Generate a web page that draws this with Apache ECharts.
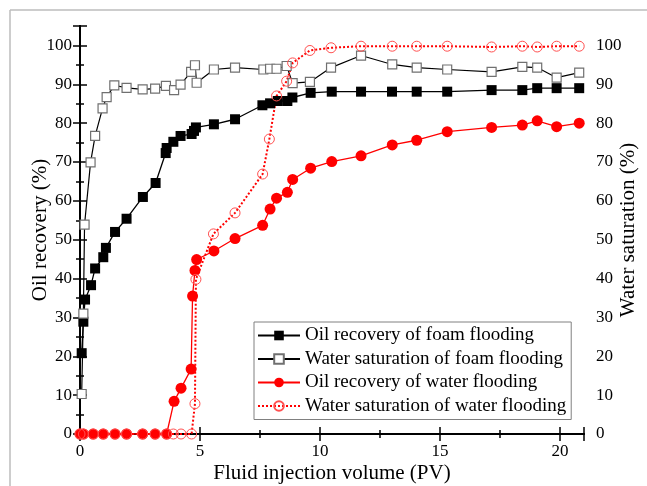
<!DOCTYPE html>
<html>
<head>
<meta charset="utf-8">
<script src="https://cdn.jsdelivr.net/npm/echarts@6/dist/echarts.min.js"></script>
<style>
  html, body { margin: 0; padding: 0; background: #fff; }
  #chart { width: 647px; height: 486px; }
</style>
</head>
<body>
<div id="chart"></div>
<script>
const FONT = '"Liberation Serif", "Times New Roman", serif'

// Oil recovery of foam flooding
const foamOilX = [0.07, 0.14, 0.21, 0.46, 0.63, 0.97, 1.08, 1.46, 1.94, 2.62, 3.15, 3.57, 3.61, 3.89, 4.19, 4.65, 4.75, 4.83, 5.58, 6.46, 7.6, 7.92, 8.24, 8.64, 8.85, 9.61, 10.49, 11.71, 13.0, 14.03, 15.3, 17.15, 18.43, 19.05, 19.86, 20.8]
const foamOilY = [20.8, 28.9, 34.6, 38.3, 42.6, 45.5, 47.9, 52.0, 55.4, 61.0, 64.6, 72.3, 73.6, 75.2, 76.7, 77.2, 78.0, 78.9, 79.7, 81.0, 84.6, 85.1, 85.7, 85.7, 86.6, 87.8, 88.1, 88.1, 88.1, 88.1, 88.1, 88.5, 88.5, 89.0, 89.0, 89.0]

// Water saturation of foam flooding
const foamSatX = [0.07, 0.14, 0.19, 0.44, 0.63, 0.94, 1.11, 1.43, 1.94, 2.61, 3.13, 3.58, 3.92, 4.19, 4.63, 4.79, 4.86, 5.58, 6.46, 7.64, 7.92, 8.19, 8.61, 8.86, 9.58, 10.46, 11.71, 13.01, 14.03, 15.3, 17.15, 18.43, 19.05, 19.86, 20.8]
const foamSatY = [10.3, 31.0, 53.9, 69.9, 76.7, 83.8, 86.7, 89.7, 89.1, 88.7, 88.9, 89.6, 88.5, 89.9, 93.2, 94.9, 90.4, 93.8, 94.3, 93.8, 94.0, 94.0, 94.7, 90.3, 90.6, 94.3, 97.4, 95.1, 94.3, 93.8, 93.2, 94.5, 94.3, 91.7, 93.0]

// Oil recovery of water flooding
const waterOilX = [0, 0.14, 0.55, 0.97, 1.46, 1.94, 2.61, 3.13, 3.61, 3.92, 4.21, 4.63, 4.69, 4.79, 4.86, 5.58, 6.46, 7.61, 7.92, 8.19, 8.64, 8.86, 9.61, 10.49, 11.71, 13.01, 14.03, 15.3, 17.15, 18.43, 19.05, 19.86, 20.8]
const waterOilY = [0, 0, 0, 0, 0, 0, 0, 0, 0, 8.4, 11.8, 16.7, 35.5, 42.1, 44.9, 47.1, 50.3, 53.7, 57.9, 60.7, 62.2, 65.5, 68.4, 70.1, 71.6, 74.4, 75.6, 77.8, 78.9, 79.5, 80.6, 79.1, 80.0]

// Water saturation of water flooding
const waterSatX = [0, 0.14, 0.55, 0.97, 1.46, 1.94, 2.61, 3.13, 3.61, 3.89, 4.21, 4.65, 4.79, 4.83, 5.56, 6.46, 7.61, 7.89, 8.19, 8.61, 8.86, 9.58, 10.46, 11.71, 13.01, 14.03, 15.3, 17.15, 18.43, 19.05, 19.86, 20.8]
const waterSatY = [0, 0, 0, 0, 0, 0, 0, 0, 0, 0, 0, 0, 7.8, 39.8, 51.5, 56.9, 66.9, 75.9, 87.0, 90.8, 95.5, 98.7, 99.4, 99.8, 99.8, 99.8, 99.8, 99.6, 99.8, 99.6, 99.8, 99.8]

const seriesNames = [
  'Oil recovery of foam flooding',
  'Water saturation of foam flooding',
  'Oil recovery of water flooding',
  'Water saturation of water flooding'
]

const zip = (xs, ys) => xs.map((x, i) => [x, ys[i]])

const axisLine = { show: true, lineStyle: { color: '#000', width: 2 } }
const labelStyle = { fontFamily: FONT, fontSize: 17, color: '#000' }
const nameStyle = { fontFamily: FONT, fontSize: 21, color: '#000' }

const xBase = { type: 'value', min: 0, max: 21, splitLine: { show: false } }
const yBase = { type: 'value', min: 0, max: 105, splitLine: { show: false } }

const chart = echarts.init(document.getElementById('chart'))

chart.setOption({
  animation: false,
  backgroundColor: '#fff',
  grid: { left: 80, right: 63, top: 26, bottom: 52, containLabel: false, outerBoundsMode: 'none' },
  graphic: [
    { type: 'line', shape: { x1: 10, y1: 10, x2: 10, y2: 486 }, style: { stroke: '#bdbdbd', lineWidth: 1.5 } },
    { type: 'line', shape: { x1: 10, y1: 10, x2: 647, y2: 10 }, style: { stroke: '#bdbdbd', lineWidth: 1.5 } }
  ],
  legend: {
    orient: 'vertical',
    left: 254,
    top: 322,
    padding: [4, 5, 4, 3],
    itemGap: 4.5,
    itemWidth: 42,
    itemHeight: 12,
    borderColor: '#808080',
    borderWidth: 1,
    backgroundColor: '#fff',
    textStyle: { fontFamily: FONT, fontSize: 19, color: '#000' },
    data: seriesNames
  },
  xAxis: [
    {
      ...xBase, position: 'bottom', interval: 5,
      axisLine,
      axisTick: { inside: true, length: 7, lineStyle: { width: 1.5, color: '#000' } },
      axisLabel: { ...labelStyle, margin: 9, formatter: v => (v % 5 === 0 ? v : '') },
      name: 'Fluid injection volume (PV)', nameLocation: 'middle', nameGap: 29,
      nameMoveOverlap: false, nameTextStyle: nameStyle
    },
    {
      ...xBase, position: 'top', interval: 5,
      axisLine,
      axisTick: { inside: true, length: 7, lineStyle: { width: 1.5, color: '#000' } },
      axisLabel: { show: false }
    },
    {
      ...xBase, position: 'bottom', interval: 2.5,
      axisLine: { show: false },
      axisTick: { inside: true, length: 4, lineStyle: { width: 1.5, color: '#000' } },
      axisLabel: { show: false }
    },
    {
      ...xBase, position: 'top', interval: 2.5,
      axisLine: { show: false },
      axisTick: { inside: true, length: 4, lineStyle: { width: 1.5, color: '#000' } },
      axisLabel: { show: false }
    }
  ],
  yAxis: [
    {
      ...yBase, position: 'left', interval: 10,
      axisLine,
      axisTick: { inside: true, length: 7, lineStyle: { width: 1.5, color: '#000' } },
      axisLabel: { ...labelStyle, margin: 8, formatter: v => (v % 10 === 0 ? v : '') },
      name: 'Oil recovery (%)', nameLocation: 'middle', nameGap: 29,
      nameMoveOverlap: false, nameTextStyle: nameStyle
    },
    {
      ...yBase, position: 'right', interval: 10,
      axisLine,
      axisTick: { inside: true, length: 7, lineStyle: { width: 1.5, color: '#000' } },
      axisLabel: { ...labelStyle, margin: 12, formatter: v => (v % 10 === 0 ? v : '') },
      name: 'Water saturation (%)', nameLocation: 'middle', nameGap: 34,
      nameMoveOverlap: false, nameTextStyle: nameStyle
    },
    {
      ...yBase, position: 'left', interval: 5,
      axisLine: { show: false },
      axisTick: { inside: true, length: 4, lineStyle: { width: 1.5, color: '#000' } },
      axisLabel: { show: false }
    },
    {
      ...yBase, position: 'right', interval: 5,
      axisLine: { show: false },
      axisTick: { inside: true, length: 4, lineStyle: { width: 1.5, color: '#000' } },
      axisLabel: { show: false }
    }
  ],
  series: [
    {
      name: seriesNames[0], type: 'line', xAxisIndex: 0, yAxisIndex: 0,
      data: zip(foamOilX, foamOilY),
      symbol: 'rect', symbolSize: 10,
      lineStyle: { color: '#000', width: 1.3 },
      itemStyle: { color: '#000' }
    },
    {
      name: seriesNames[1], type: 'line', xAxisIndex: 0, yAxisIndex: 1,
      data: zip(foamSatX, foamSatY),
      symbol: 'rect', symbolSize: 9,
      lineStyle: { color: '#000', width: 1.2 },
      itemStyle: { color: '#fff', borderColor: '#707070', borderWidth: 1.2 }
    },
    {
      name: seriesNames[2], type: 'line', xAxisIndex: 0, yAxisIndex: 0,
      data: zip(waterOilX, waterOilY),
      symbol: 'circle', symbolSize: 11,
      lineStyle: { color: '#ff0000', width: 1.3 },
      itemStyle: { color: '#ff0000' }
    },
    {
      name: seriesNames[3], type: 'line', xAxisIndex: 0, yAxisIndex: 1,
      data: zip(waterSatX, waterSatY),
      symbol: 'circle', symbolSize: 10,
      lineStyle: { color: '#ff0000', width: 2, type: 'dotted' },
      itemStyle: { color: 'rgba(255,255,255,0)', borderColor: '#ff5050', borderWidth: 1 }
    }
  ]
})
</script>
</body>
</html>
